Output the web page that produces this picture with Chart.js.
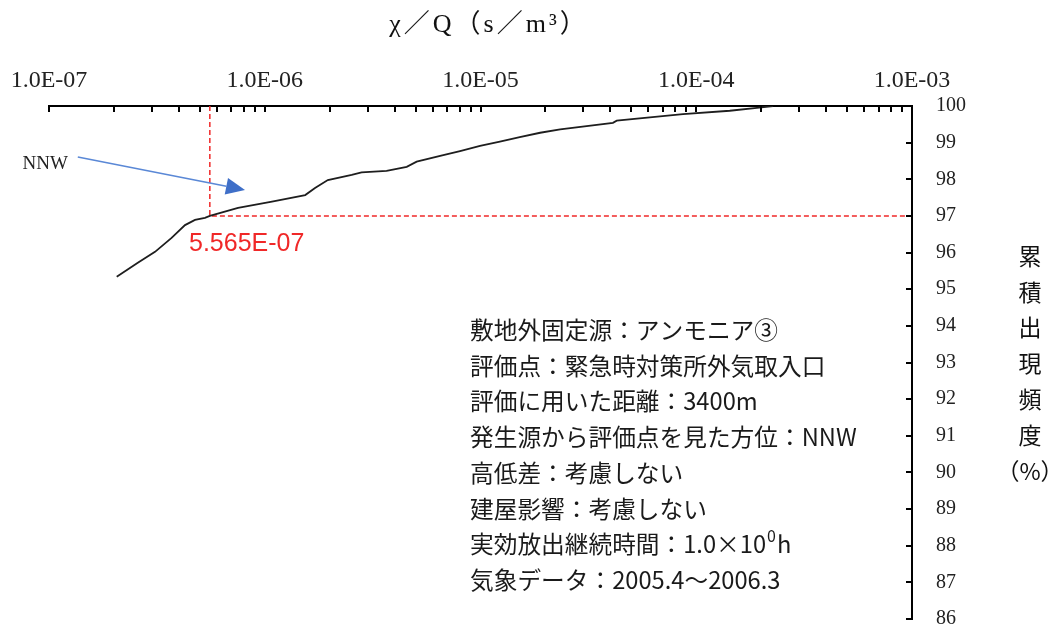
<!DOCTYPE html>
<html>
<head>
<meta charset="utf-8">
<script src="https://cdn.jsdelivr.net/npm/chart.js@4/dist/chart.umd.min.js"></script>
<style>
  html, body { margin: 0; padding: 0; background: #fff; }
  #wrap { width: 1056px; height: 629px; position: relative; }
</style>
</head>
<body>
<div id="wrap"><canvas id="c" width="1056" height="629"></canvas></div>
<script>
// χ/Q (s/m³) of the cumulative frequency curve
const chiQ = [
  2.06e-7, 2.58e-7, 3.10e-7, 3.70e-7, 4.27e-7, 4.75e-7, 5.28e-7, 5.565e-7,
  7.52e-7, 1.08e-6, 1.54e-6, 1.71e-6, 1.96e-6, 2.53e-6, 2.81e-6, 3.67e-6,
  4.55e-6, 5.06e-6, 6.72e-6, 8.04e-6, 9.95e-6, 1.23e-5, 1.52e-5, 1.89e-5,
  2.34e-5, 4.11e-5, 4.28e-5, 8.68e-5, 1.43e-4, 1.91e-4, 2.27e-4
];
// cumulative frequency (%)
const cumFreq = [
  95.34, 95.72, 96.02, 96.40, 96.75, 96.89, 96.95, 97.00,
  97.22, 97.39, 97.57, 97.76, 97.98, 98.12, 98.19, 98.23,
  98.34, 98.48, 98.66, 98.77, 98.91, 99.03, 99.15, 99.27,
  99.36, 99.54, 99.60, 99.78, 99.87, 99.95, 100.00
];
// decades shown on the top axis
const decades = [1e-7, 1e-6, 1e-5, 1e-4, 1e-3];
const decadeLabels = ['1.0E-07', '1.0E-06', '1.0E-05', '1.0E-04', '1.0E-03'];
// frequency axis range
const freqMin = 86, freqMax = 100;
// 97% value marked on the curve
const markX = 5.565e-7;
const markY = 97;
const markLabel = '5.565E-07';
// direction label and pointer (data coordinates)
const dirLabel = 'NNW';
const arrowFrom = { x: 1.36e-7, y: 98.61 };
const arrowTo = { x: 8.1e-7, y: 97.71 };

const xTitle = 'χ／Q（s／m³）';
const yTitleChars = ['累', '積', '出', '現', '頻', '度', '（%）'];
const infoLines = [
  '敷地外固定源：アンモニア③',
  '評価点：緊急時対策所外気取入口',
  '評価に用いた距離：3400m',
  '発生源から評価点を見た方位：NNW',
  '高低差：考慮しない',
  '建屋影響：考慮しない',
  ['実効放出継続時間：1.0×10', '0', 'h'],
  '気象データ：2005.4〜2006.3'
];

const JP = "'Noto Sans CJK JP', 'Noto Sans', sans-serif";

const points = chiQ.map((v, i) => ({ x: v, y: cumFreq[i] }));

const guideLines = {
  id: 'guideLines',
  beforeDatasetsDraw(chart) {
    const { ctx, chartArea: a, scales: { x, y } } = chart;
    const px = x.getPixelForValue(markX);
    const py = y.getPixelForValue(markY);
    ctx.save();
    ctx.strokeStyle = '#f02828';
    ctx.lineWidth = 1.5;
    ctx.setLineDash([5, 3]);
    ctx.beginPath();
    ctx.moveTo(px, a.top);
    ctx.lineTo(px, py);
    ctx.lineTo(a.right, py);
    ctx.stroke();
    ctx.restore();
  }
};

const decorations = {
  id: 'decorations',
  afterDraw(chart) {
    const { ctx, chartArea: a, scales: { x, y } } = chart;
    ctx.save();
    // inward tick marks
    ctx.strokeStyle = '#000';
    ctx.lineWidth = 2;
    ctx.beginPath();
    x.ticks.forEach(t => {
      const px = Math.round(x.getPixelForValue(t.value));
      ctx.moveTo(px, a.top);
      ctx.lineTo(px, a.top + 6);
    });
    y.ticks.forEach(t => {
      const py = Math.round(y.getPixelForValue(t.value));
      ctx.moveTo(a.right, py);
      ctx.lineTo(a.right - 6, py);
    });
    ctx.stroke();

    // axis titles
    ctx.fillStyle = '#111';
    ctx.textAlign = 'center';
    ctx.textBaseline = 'middle';
    ctx.font = "26px 'Liberation Serif', " + JP;
    ctx.letterSpacing = '3px';
    ctx.fillText(xTitle, 489, 25);
    ctx.letterSpacing = '0px';
    ctx.font = '23px ' + JP;
    yTitleChars.forEach((ch, i) => {
      ctx.fillText(ch, 1030, 256 + i * 35.8);
    });

    // marked value label
    ctx.fillStyle = '#f02828';
    ctx.font = "25px 'Liberation Sans', sans-serif";
    ctx.textAlign = 'left';
    ctx.fillText(markLabel, 189, 244);

    // direction label and pointer
    ctx.fillStyle = '#222';
    ctx.font = "19px 'Liberation Serif', serif";
    ctx.textAlign = 'right';
    ctx.fillText(dirLabel, 68, 164);
    const x0 = x.getPixelForValue(arrowFrom.x), y0 = y.getPixelForValue(arrowFrom.y);
    const x1 = x.getPixelForValue(arrowTo.x), y1 = y.getPixelForValue(arrowTo.y);
    const ang = Math.atan2(y1 - y0, x1 - x0);
    const headLen = 19, headW = 8.5;
    const bx = x1 - headLen * Math.cos(ang), by = y1 - headLen * Math.sin(ang);
    ctx.strokeStyle = '#5a88d6';
    ctx.lineWidth = 1.6;
    ctx.beginPath();
    ctx.moveTo(x0, y0);
    ctx.lineTo(bx, by);
    ctx.stroke();
    ctx.fillStyle = '#3f6fc8';
    ctx.beginPath();
    ctx.moveTo(x1, y1);
    ctx.lineTo(bx + headW * Math.sin(ang), by - headW * Math.cos(ang));
    ctx.lineTo(bx - headW * Math.sin(ang), by + headW * Math.cos(ang));
    ctx.closePath();
    ctx.fill();

    // condition notes
    ctx.fillStyle = '#1a1a1a';
    ctx.textAlign = 'left';
    ctx.textBaseline = 'middle';
    infoLines.forEach((line, i) => {
      const ty = 330 + i * 35.7;
      ctx.font = '23.7px ' + JP;
      if (Array.isArray(line)) {
        let tx = 470;
        ctx.fillText(line[0], tx, ty);
        tx += ctx.measureText(line[0]).width + 1;
        ctx.font = '16px ' + JP;
        ctx.fillText(line[1], tx, ty - 8);
        tx += ctx.measureText(line[1]).width + 1;
        ctx.font = '23.7px ' + JP;
        ctx.fillText(line[2], tx, ty);
      } else {
        ctx.fillText(line, 470, ty);
      }
    });
    ctx.restore();
  }
};

new Chart(document.getElementById('c'), {
  type: 'line',
  data: {
    datasets: [{
      data: points,
      borderColor: '#1e1e1e',
      borderWidth: 1.8,
      pointRadius: 0,
      tension: 0,
      fill: false
    }]
  },
  options: {
    responsive: false,
    animation: false,
    layout: { padding: { left: 49, right: 0, top: 0, bottom: 10 } },
    plugins: { legend: { display: false }, tooltip: { enabled: false } },
    scales: {
      x: {
        type: 'logarithmic',
        position: 'top',
        min: decades[0],
        max: decades[decades.length - 1],
        afterBuildTicks(scale) {
          const ticks = [];
          decades.forEach((d, i) => {
            if (i === decades.length - 1) { ticks.push({ value: d }); return; }
            for (let k = 1; k <= 9; k++) ticks.push({ value: d * k });
          });
          scale.ticks = ticks;
        },
        afterFit(scale) {
          scale.height = 106;
          scale.paddingLeft = 0;
          scale.paddingRight = 0;
        },
        grid: { drawOnChartArea: false, drawTicks: false },
        border: { display: true, color: '#000', width: 2 },
        ticks: {
          autoSkip: false,
          maxRotation: 0,
          padding: 11,
          color: '#222',
          font: { family: "'Liberation Serif', serif", size: 24 },
          callback(value) {
            const i = decades.findIndex(d => Math.abs(d - value) / d < 1e-9);
            return i >= 0 ? decadeLabels[i] : '';
          }
        }
      },
      y: {
        type: 'linear',
        position: 'right',
        min: freqMin,
        max: freqMax,
        afterFit(scale) {
          scale.width = 144;
          scale.paddingTop = 0;
          scale.paddingBottom = 0;
        },
        grid: { drawOnChartArea: false, drawTicks: false },
        border: { display: true, color: '#000', width: 2 },
        ticks: {
          stepSize: 1,
          autoSkip: false,
          padding: 24,
          color: '#222',
          font: { family: "'Liberation Serif', serif", size: 20 }
        }
      }
    }
  },
  plugins: [guideLines, decorations]
});
</script>
</body>
</html>
